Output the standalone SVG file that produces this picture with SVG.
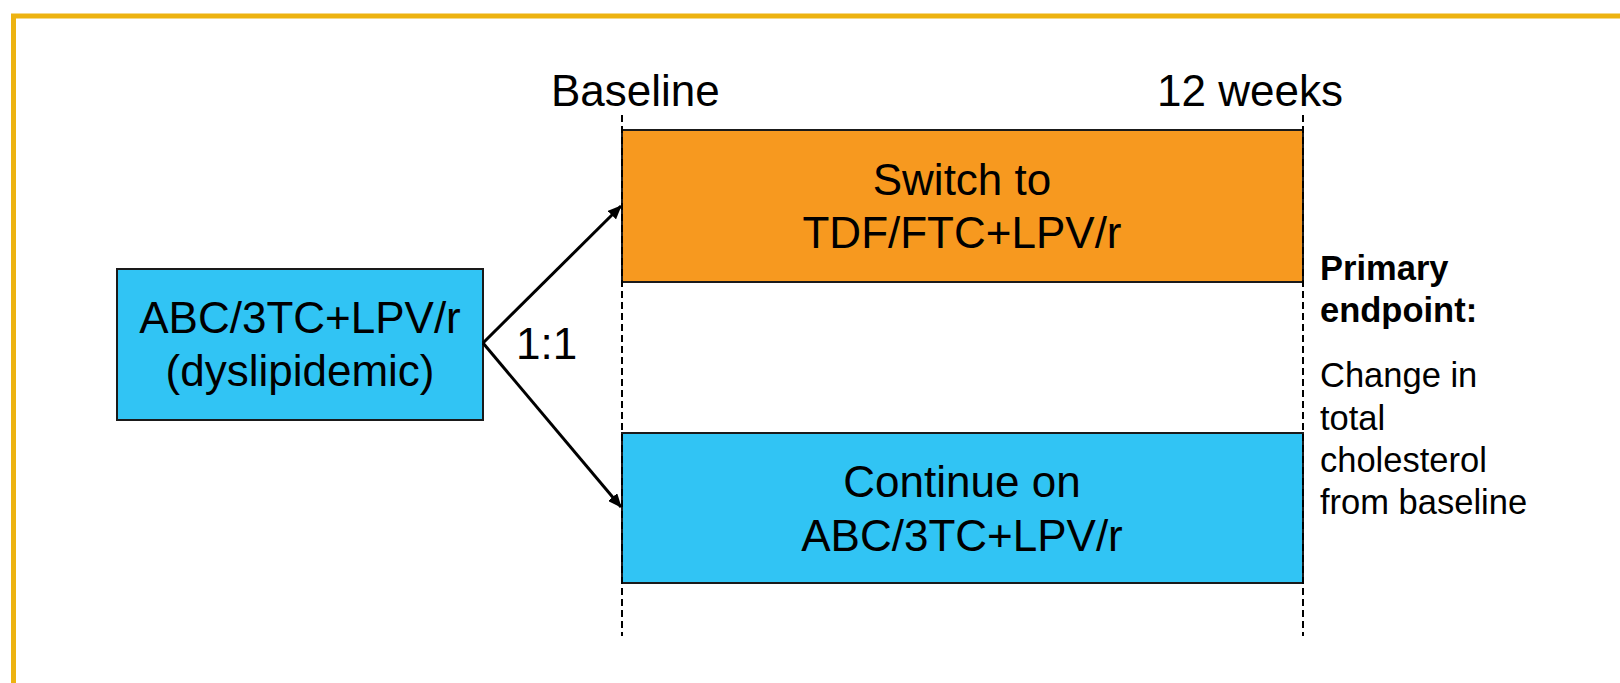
<svg xmlns="http://www.w3.org/2000/svg" width="1620" height="683" viewBox="0 0 1620 683">
<style>
  .t{font-family:"Liberation Sans",Arial,sans-serif;fill:#000}
  .big{font-size:44px}
  .sm{font-size:34.5px}
  .b{font-weight:bold}
  .box{stroke:#1a1a1a;stroke-width:2}
  .blue{fill:#31C4F4}
  .orange{fill:#F7991F}
  .dash{stroke:#000;stroke-width:2;stroke-dasharray:7 4;fill:none}
  .arr{stroke:#000;stroke-width:3;fill:none;marker-end:url(#ah)}
</style>
<defs>
  <marker id="ah" viewBox="0 0 14 12" refX="13" refY="6" markerWidth="14" markerHeight="12" markerUnits="userSpaceOnUse" orient="auto">
    <path d="M0,0 L14,6 L0,12 z" fill="#000"/>
  </marker>
</defs>
<rect width="1620" height="683" fill="#fff"/>
<rect id="frame" x="13.5" y="16" width="1700" height="800" fill="none" stroke="#EDB311" stroke-width="5"/>

<g id="start">
  <rect class="box blue" x="117" y="269" width="366" height="151"/>
  <text class="t big" x="300" y="333" text-anchor="middle">ABC/3TC+LPV/r</text>
  <text class="t big" x="300" y="386" text-anchor="middle">(dyslipidemic)</text>
</g>

<g id="switch">
  <rect class="box orange" x="622" y="130" width="681" height="152"/>
  <text class="t big" x="962" y="195" text-anchor="middle">Switch to</text>
  <text class="t big" x="962" y="248" text-anchor="middle">TDF/FTC+LPV/r</text>
</g>

<g id="continue">
  <rect class="box blue" x="622" y="433" width="681" height="150"/>
  <text class="t big" x="962" y="497" text-anchor="middle">Continue on</text>
  <text class="t big" x="962" y="551" text-anchor="middle">ABC/3TC+LPV/r</text>
</g>

<g id="timeline">
  <line class="dash" x1="622" y1="115" x2="622" y2="636"/>
  <line class="dash" x1="1303" y1="115" x2="1303" y2="636"/>
  <text class="t big" x="551" y="106">Baseline</text>
  <text class="t big" x="1157" y="106">12 weeks</text>
</g>

<g id="connectors">
  <line class="arr" x1="483" y1="343" x2="621" y2="206"/>
  <line class="arr" x1="483" y1="343" x2="621" y2="507"/>
  <text class="t big" x="516" y="359">1:1</text>
</g>

<g id="endpoint">
  <text class="t sm b" x="1320" y="280">Primary</text>
  <text class="t sm b" x="1320" y="322">endpoint:</text>
  <text class="t sm" x="1320" y="387">Change in</text>
  <text class="t sm" x="1320" y="430">total</text>
  <text class="t sm" x="1320" y="472">cholesterol</text>
  <text class="t sm" x="1320" y="514">from baseline</text>
</g>
</svg>
